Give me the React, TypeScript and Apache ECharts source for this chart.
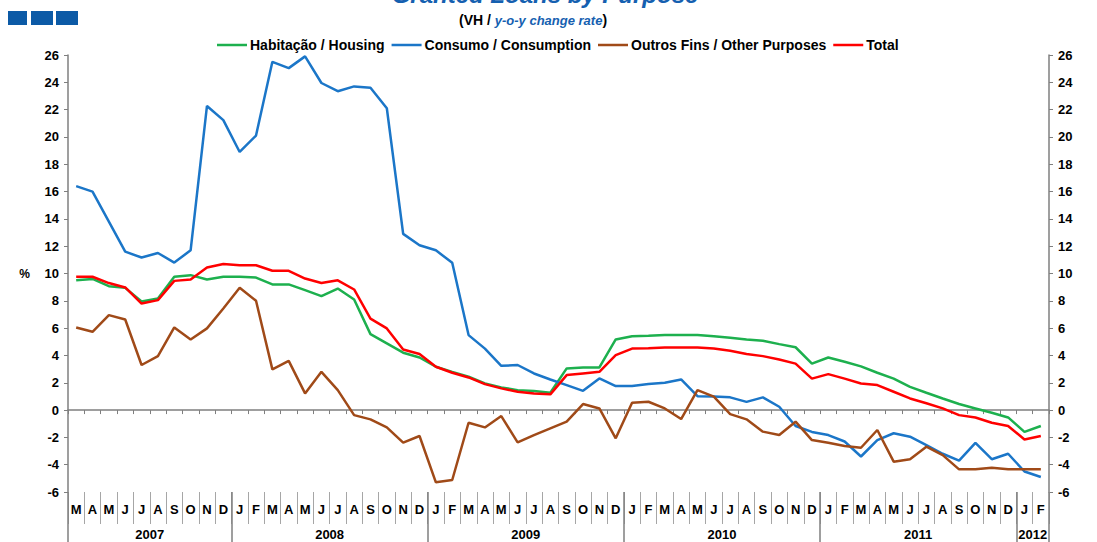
import React, { useEffect, useRef } from "react";
import * as echarts from "echarts";

const months: string[] = [
  "M", "A", "M", "J", "J", "A", "S", "O", "N", "D",
  "J", "F", "M", "A", "M", "J", "J", "A", "S", "O", "N", "D",
  "J", "F", "M", "A", "M", "J", "J", "A", "S", "O", "N", "D",
  "J", "F", "M", "A", "M", "J", "J", "A", "S", "O", "N", "D",
  "J", "F", "M", "A", "M", "J", "J", "A", "S", "O", "N", "D",
  "J", "F",
];

// year label: [label, start index, end index (exclusive)]
const years: [string, number, number][] = [
  ["2007", 0, 10],
  ["2008", 10, 22],
  ["2009", 22, 34],
  ["2010", 34, 46],
  ["2011", 46, 58],
  ["2012", 58, 60],
];

const housing: number[] = [
  9.5, 9.6, 9.07, 8.95, 7.95, 8.17, 9.76, 9.88, 9.56, 9.76,
  9.76, 9.7, 9.2, 9.2, 8.78, 8.34, 8.9, 8.1, 5.56, 4.88, 4.2, 3.85,
  3.17, 2.8, 2.44, 1.95, 1.66, 1.46, 1.39, 1.27, 3.05, 3.12, 3.12, 5.17,
  5.41, 5.45, 5.5, 5.5, 5.5, 5.4, 5.3, 5.17, 5.07, 4.83, 4.6, 3.4,
  3.85, 3.54, 3.2, 2.73, 2.3, 1.7, 1.27, 0.85, 0.44, 0.12, -0.2, -0.54,
  -1.6, -1.17,
];

const consumption: number[] = [
  16.4, 16.0, 13.8, 11.6, 11.17, 11.5, 10.8, 11.7, 22.27, 21.23,
  18.9, 20.1, 25.5, 25.04, 25.9, 23.95, 23.35, 23.7, 23.6, 22.1, 12.9, 12.07,
  11.7, 10.78, 5.49, 4.5, 3.24, 3.3, 2.68, 2.24, 1.83, 1.41, 2.32, 1.76,
  1.76, 1.9, 2.0, 2.24, 1.02, 1.0, 0.93, 0.6, 0.93, 0.24, -1.17, -1.6,
  -1.83, -2.3, -3.4, -2.2, -1.7, -1.95, -2.56, -3.2, -3.7, -2.4, -3.6, -3.2,
  -4.5, -4.9,
];

const otherPurposes: number[] = [
  6.05, 5.73, 6.95, 6.63, 3.3, 3.95, 6.05, 5.17, 5.98, 7.44,
  8.95, 8.0, 2.98, 3.6, 1.22, 2.8, 1.46, -0.37, -0.68, -1.27, -2.39, -1.9,
  -5.29, -5.12, -0.93, -1.27, -0.44, -2.37, -1.83, -1.34, -0.85, 0.44, 0.12, -2.07,
  0.54, 0.61, 0.12, -0.66, 1.46, 0.98, -0.3, -0.68, -1.58, -1.83, -0.85, -2.2,
  -2.4, -2.63, -2.76, -1.46, -3.78, -3.6, -2.68, -3.3, -4.34, -4.34, -4.22, -4.34,
  -4.34, -4.34,
];

const total: number[] = [
  9.76, 9.76, 9.3, 8.98, 7.8, 8.05, 9.46, 9.56, 10.44, 10.7,
  10.6, 10.6, 10.2, 10.2, 9.63, 9.3, 9.5, 8.83, 6.7, 5.98, 4.44, 4.1,
  3.17, 2.73, 2.39, 1.9, 1.59, 1.34, 1.22, 1.15, 2.56, 2.68, 2.8, 4.02,
  4.5, 4.52, 4.58, 4.58, 4.58, 4.5, 4.34, 4.1, 3.95, 3.7, 3.4, 2.3,
  2.63, 2.3, 1.95, 1.83, 1.34, 0.85, 0.5, 0.12, -0.37, -0.54, -0.93, -1.17,
  -2.15, -1.9,
];

const seriesNames = [
  "Habitação / Housing",
  "Consumo / Consumption",
  "Outros Fins / Other Purposes",
  "Total",
];
const seriesColors = ["#1DB04E", "#1B76C8", "#A04A18", "#FF0000"];

const FONT = "'Liberation Sans', Arial, sans-serif";

export default function App() {
  const ref = useRef<HTMLDivElement>(null);

  useEffect(() => {
    if (!ref.current) return;
    const chart = echarts.init(ref.current, undefined, { renderer: "svg" });
    const yearStarts = new Set(years.map((y) => y[1]));
    const yearMid = new Map<number, string>();
    years.forEach(([lab, s, e]) => yearMid.set((s + e) / 2, lab));

    const yAxisBase = {
      type: "value",
      min: -6,
      max: 26,
      interval: 2,
      splitLine: { show: false },
      axisLine: { show: true, lineStyle: { color: "#7f7f7f", width: 1.5 } },
      axisTick: { show: true, length: 4, lineStyle: { color: "#7f7f7f" } },
      axisLabel: {
        color: "#000",
        fontFamily: FONT,
        fontWeight: "bold",
        fontSize: 13,
        margin: 9,
      },
    };

    const datas = [housing, consumption, otherPurposes, total];

    chart.setOption({
      animation: false,
      backgroundColor: "#fff",
      textStyle: { fontFamily: FONT },
      graphic: [
        { type: "rect", shape: { x: 8, y: 11, width: 19, height: 14 }, style: { fill: "#0C5AA6" } },
        { type: "rect", shape: { x: 31, y: 11, width: 22, height: 14 }, style: { fill: "#0C5AA6" } },
        { type: "rect", shape: { x: 56, y: 11, width: 22, height: 14 }, style: { fill: "#0C5AA6" } },
        {
          type: "text",
          x: 545,
          y: 6,
          style: {
            text: "Granted Loans by Purpose",
            fill: "#1560B0",
            fontFamily: FONT,
            fontSize: 24,
            fontWeight: "bold",
            fontStyle: "italic",
            align: "center",
            verticalAlign: "bottom",
          },
        },
        {
          type: "text",
          x: 533,
          y: 20,
          style: {
            text: "(VH / {i|y-o-y change rate})",
            fill: "#000",
            fontFamily: FONT,
            fontSize: 14,
            fontWeight: "bold",
            align: "center",
            verticalAlign: "middle",
            rich: {
              i: {
                fill: "#1560B0",
                fontFamily: FONT,
                fontSize: 13,
                fontWeight: "bold",
                fontStyle: "italic",
              },
            },
          },
        },
      ],
      legend: {
        left: 212,
        top: 33,
        icon: "rect",
        itemWidth: 30,
        itemHeight: 2.5,
        itemGap: 7,
        textStyle: {
          fontFamily: FONT,
          fontWeight: "bold",
          fontSize: 14,
          color: "#000",
          padding: [0, 0, 0, -2],
        },
        data: seriesNames,
      },
      grid: { left: 68, right: 48, top: 55, bottom: 50, containLabel: false },
      xAxis: [
        {
          type: "category",
          data: months,
          position: "bottom",
          axisLine: { show: true, onZero: true, lineStyle: { color: "#7f7f7f", width: 1.5 } },
          axisTick: { show: true, length: 4, lineStyle: { color: "#7f7f7f" } },
          axisLabel: { show: false },
          splitLine: { show: false },
        },
        {
          type: "category",
          data: months,
          position: "bottom",
          axisLine: { show: false, onZero: false },
          axisTick: { show: true, length: 32, lineStyle: { color: "#a6a6a6", width: 1 } },
          axisLabel: {
            interval: 0,
            color: "#000",
            fontFamily: FONT,
            fontWeight: "bold",
            fontSize: 13,
            margin: 11,
          },
          splitLine: { show: false },
        },
        {
          type: "category",
          data: months,
          position: "bottom",
          axisLine: { show: false, onZero: false },
          axisTick: {
            show: true,
            length: 50,
            interval: (idx: number) => yearStarts.has(idx),
            lineStyle: { color: "#7f7f7f", width: 1.5 },
          },
          axisLabel: { show: false },
          splitLine: { show: false },
        },
        {
          type: "value",
          min: 0,
          max: months.length,
          interval: 1,
          position: "bottom",
          axisLine: { show: false, onZero: false },
          axisTick: { show: false },
          splitLine: { show: false },
          axisLabel: {
            color: "#000",
            fontFamily: FONT,
            fontWeight: "bold",
            fontSize: 13,
            margin: 36,
            formatter: (v: number) => yearMid.get(v) || "",
          },
        },
      ],
      yAxis: [
        {
          ...yAxisBase,
          position: "left",
          name: "%",
          nameLocation: "middle",
          nameGap: 38,
          nameRotate: 0,
          nameTextStyle: { color: "#000", fontFamily: FONT, fontWeight: "bold", fontSize: 12 },
        },
        { ...yAxisBase, position: "right" },
      ],
      series: seriesNames.map((name, i) => ({
        name,
        type: "line",
        xAxisIndex: 0,
        yAxisIndex: 0,
        data: datas[i],
        showSymbol: false,
        symbol: "none",
        color: seriesColors[i],
        lineStyle: { color: seriesColors[i], width: 2.5 },
        z: i === 3 ? 4 : 3,
      })),
    });
    return () => chart.dispose();
  }, []);

  return (
    <div
      ref={ref}
      style={{ position: "fixed", left: 0, top: 0, width: 1097, height: 542 }}
    />
  );
}
